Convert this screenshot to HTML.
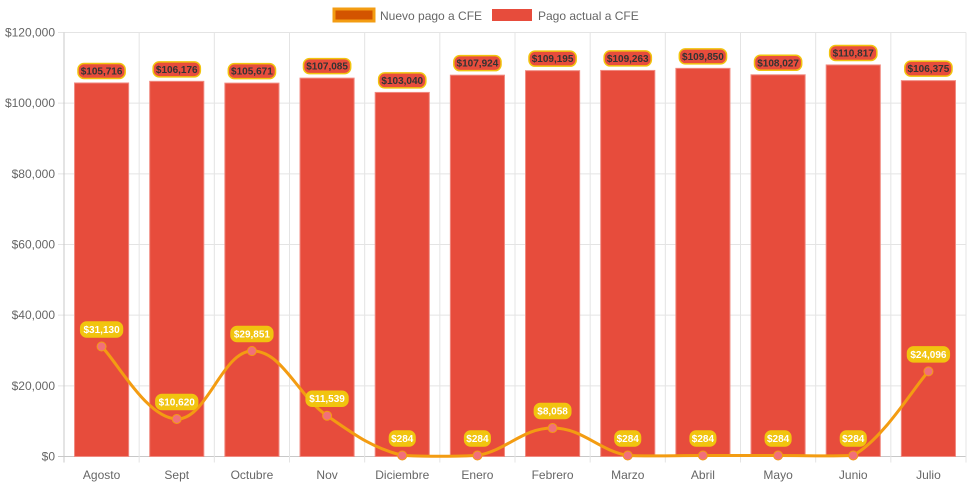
<!DOCTYPE html>
<html><head><meta charset="utf-8"><style>
body{margin:0;background:#fff;font-family:"Liberation Sans",sans-serif;}
svg{display:block}
</style></head><body>
<svg id="c" width="971" height="485"></svg>
<script>
const categories=["Agosto","Sept","Octubre","Nov","Diciembre","Enero","Febrero","Marzo","Abril","Mayo","Junio","Julio"];
const barValues=[105716,106176,105671,107085,103040,107924,109195,109263,109850,108027,110817,106375];
const lineValues=[31130,10620,29851,11539,284,284,8058,284,284,284,284,24096];
const yTicks=[0,20000,40000,60000,80000,100000,120000];
const L=64,R=966,T=32.5,B=456.5,yMax=120000;
const cw=(R-L)/categories.length;
const x=i=>L+cw*(i+0.5);
const y=v=>B-(v/yMax)*(B-T);
const svg=document.getElementById('c');
const NS='http://www.w3.org/2000/svg';
function mk(tag,attrs,parent){const e=document.createElementNS(NS,tag);for(const k in attrs)e.setAttribute(k,attrs[k]);(parent||svg).appendChild(e);return e;}
const fmt=v=>'$'+v.toLocaleString('en-US');
yTicks.forEach(t=>{
  const g=mk('line',{x1:L-6,x2:R,y1:y(t),y2:y(t),stroke:t===0?'#c8c8c8':'#e4e4e4','stroke-width':1});
  
  
  const tx=mk('text',{x:L-9,y:y(t)+4,'text-anchor':'end','font-size':12,fill:'#666'});
  tx.textContent=fmt(t);
  
  
});
for(let i=0;i<=categories.length;i++){
  const g=mk('line',{x1:L+cw*i,x2:L+cw*i,y1:T,y2:B+6,stroke:i===0?'#c8c8c8':'#e4e4e4','stroke-width':1});
  
  
}
categories.forEach((c,i)=>{
  const tx=mk('text',{x:x(i),y:479,'text-anchor':'middle','font-size':12,fill:'#666'});
  tx.textContent=c;
  
  
});
const bw=cw*0.72;
barValues.forEach((v,i)=>{
  const r=mk('rect',{x:x(i)-bw/2,y:y(v),width:bw,height:B-y(v),fill:'#e74c3c',stroke:'#f08a80','stroke-width':1});
  
  
});
const pts=lineValues.map((v,i)=>[x(i),y(v)]);
let d='M'+pts[0][0]+','+pts[0][1];
const tn=0.4;
for(let i=0;i<pts.length-1;i++){
  const p0=pts[i-1]||pts[i],p1=pts[i],p2=pts[i+1],p3=pts[i+2]||p2;
  const c1=[p1[0]+(p2[0]-p0[0])*tn/2,p1[1]+(p2[1]-p0[1])*tn/2];
  const c2=[p2[0]-(p3[0]-p1[0])*tn/2,p2[1]-(p3[1]-p1[1])*tn/2];
  d+=` C${c1[0]},${Math.min(c1[1],B)} ${c2[0]},${Math.min(c2[1],B)} ${p2[0]},${p2[1]}`;
}
const ln=mk('path',{d:d,fill:'none',stroke:'#f39c12','stroke-width':3});


pts.forEach((p,i)=>{
  const c=mk('circle',{cx:p[0],cy:p[1],r:4.5,fill:'#f1707a',stroke:'#f39c12','stroke-width':1});
  
  
});
function label(cx,cy,text,fill,stroke,color,name){
  const w=text.length*5.4+4;
  const r=mk('rect',{x:cx-w/2,y:cy-7.5,width:w,height:15,rx:6,fill:fill,stroke:stroke,'stroke-width':1.5});
  
  
  const t=mk('text',{x:cx,y:cy+3.5,'text-anchor':'middle','font-size':10,'font-weight':'bold',fill:color});
  t.textContent=text;
  
  
}
barValues.forEach((v,i)=>label(x(i),y(v)-12,fmt(v),'#e74c3c','#f1c40f','#333','bar-value-label'));
lineValues.forEach((v,i)=>label(x(i),y(v)-17,fmt(v),'#f1c40f','#f1c40f','#fff','line-value-label'));
const lg1=mk('rect',{x:334,y:9,width:40,height:12,fill:'#d35400',stroke:'#f39c12','stroke-width':3});


const lt1=mk('text',{x:380,y:20,'font-size':12,fill:'#666'});lt1.textContent='Nuevo pago a CFE';


const lg2=mk('rect',{x:492,y:9,width:40,height:12,fill:'#e74c3c'});


const lt2=mk('text',{x:538,y:20,'font-size':12,fill:'#666'});lt2.textContent='Pago actual a CFE';


</script>
</body></html>
